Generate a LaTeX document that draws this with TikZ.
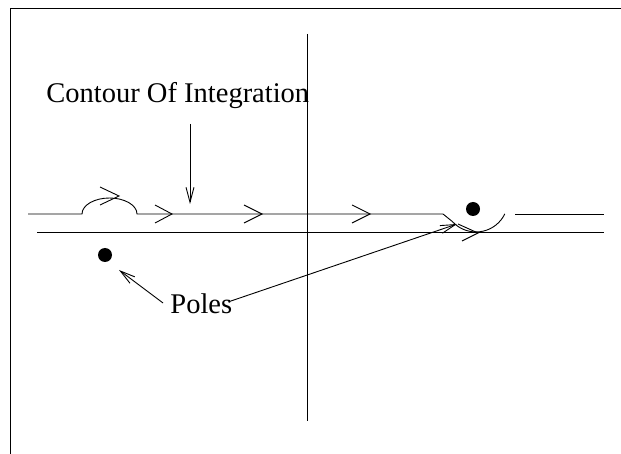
\documentclass[tikz,border=0pt]{standalone}
\usepackage{fontspec}
\setmainfont{Liberation Serif}
\usetikzlibrary{arrows.meta}
\begin{document}
\begin{tikzpicture}[x=1pt,y=-1pt,line width=0.9pt,
  lbl/.style={font=\fontsize{28.5}{32}\selectfont,inner sep=0pt,anchor=base west},
  poledot/.style={circle,fill=black,inner sep=0pt,minimum size=14pt},
  ptr/.style={-{Straight Barb[length=15pt,width=8pt]}}]
\useasboundingbox (0,0) rectangle (621,454);
% frame
\draw (10,454) -- (10,8) -- (621,8);
% imaginary axis
\draw (307,34) -- (307,421);
% real axis
\draw (37,232) -- (604,232);
% contour of integration
\draw (28,214) -- (82,214)
  arc[start angle=180,end angle=360,x radius=27.5,y radius=16]
  -- (443,214) -- (452.4,221.6)
  arc[start angle=137.5,end angle=25.8,radius=32];
\draw (515,214) -- (604,214);
% direction chevrons
\draw (100,187) -- (119,196) -- (100,205);
\draw (155,205) -- (172,214) -- (155,223);
\draw (244,205) -- (262,214) -- (244,223);
\draw (352,205) -- (370,214) -- (352,223);
\draw (458,224) -- (478,233) -- (462,241);
% poles
\node[poledot] (pole1) at (105,255) {};
\node[poledot] (pole2) at (473,209) {};
% labels
\node[lbl] (contour) at (46,103) {Contour Of Integration};
\node[lbl] (poles) at (170,313) {Poles};
% pointers
\coordinate (ctop) at (190,124);
\coordinate (ctip) at (190,204);
\draw[ptr] (ctop) -- (ctip);
\coordinate (p1s) at (163,303);
\coordinate (p1t) at (119,270);
\draw[ptr] (p1s) -- (p1t);
\coordinate (p2s) at (228,302);
\coordinate (p2t) at (457,224);
\draw[ptr] (p2s) -- (p2t);
\end{tikzpicture}
\end{document}
